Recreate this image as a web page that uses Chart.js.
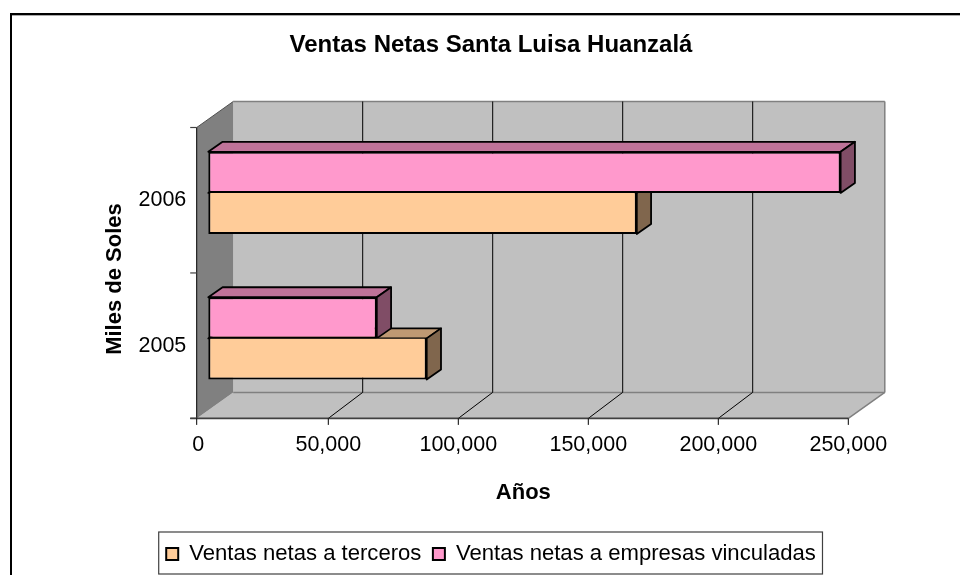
<!DOCTYPE html>
<html lang="es">
<head>
<meta charset="utf-8">
<title>Ventas Netas Santa Luisa Huanzalá</title>
<script src="https://cdn.jsdelivr.net/npm/chart.js@4/dist/chart.umd.min.js"></script>
<style>html,body{margin:0;padding:0;background:#fff}canvas{display:block}</style>
</head>
<body>
<canvas id="c" width="960" height="575"></canvas>
<script>
const categories = ['2005', '2006'];
const ventasTerceros = [84000, 164800];
const ventasVinculadas = [64800, 243200];
const tickValues = [0, 50000, 100000, 150000, 200000, 250000];
const chartTitle = 'Ventas Netas Santa Luisa Huanzalá';
const xTitle = 'Años';
const yTitle = 'Miles de Soles  ';
const seriesNames = ['Ventas netas a terceros', 'Ventas netas a empresas vinculadas'];

const FONT = '"Liberation Sans", Arial, sans-serif';
const WALL = { dx: 36.5, dy: -26, gridDx: 34.4, cornerInset: 1.6 };
const BAR_PLANE = { dx: 10, dy: -7.3 };
const BAR_DEPTH = { dx: 14.3, dy: -10 };
const FACE = [
  { front: '#FFCC99', top: '#BF9973', side: '#80664D' },
  { front: '#FF99CC', top: '#BF7399', side: '#804D66' }
];

function poly(ctx, pts, fill, stroke, lw) {
  ctx.beginPath();
  pts.forEach((p, i) => i ? ctx.lineTo(p[0], p[1]) : ctx.moveTo(p[0], p[1]));
  ctx.closePath();
  if (fill) { ctx.fillStyle = fill; ctx.fill(); }
  if (stroke) { ctx.strokeStyle = stroke; ctx.lineWidth = lw; ctx.stroke(); }
}
function line(ctx, x1, y1, x2, y2, color, lw) {
  ctx.beginPath(); ctx.moveTo(x1, y1); ctx.lineTo(x2, y2);
  ctx.strokeStyle = color; ctx.lineWidth = lw; ctx.stroke();
}

const scene3d = {
  id: 'scene3d',
  beforeDraw(chart) {
    const ctx = chart.ctx, x = chart.scales.x, y = chart.scales.y;
    const L = x.left - WALL.cornerInset, R = x.right, T = y.top, B = y.bottom;
    const dx = WALL.dx, dy = WALL.dy;
    ctx.save();
    // outer frame
    ctx.fillStyle = '#000';
    ctx.fillRect(10, 13, 950, 2);
    ctx.fillRect(10, 13, 2, 562);
    ctx.fillStyle = '#aaa';
    ctx.fillRect(12, 15, 948, 1);
    // walls
    poly(ctx, [[L + dx, T + dy], [R + dx, T + dy], [R + dx, B + dy], [L + dx, B + dy]], '#C0C0C0');
    poly(ctx, [[L, B], [R, B], [R + dx, B + dy], [L + dx, B + dy]], '#C0C0C0');
    poly(ctx, [[L, T], [L + dx, T + dy], [L + dx, B + dy], [L, B]], '#808080');
    // wall edges
    line(ctx, L + dx, T + dy, R + dx, T + dy, '#808080', 1.5);
    line(ctx, R + dx, T + dy, R + dx, B + dy, '#808080', 1.5);
    line(ctx, L + dx, B + dy, R + dx, B + dy, '#808080', 1.5);
    line(ctx, R, B, R + dx, B + dy, '#808080', 1.5);
    line(ctx, L, T, L + dx, T + dy, '#505050', 1);
    // grid
    tickValues.slice(1, -1).forEach(v => {
      const p = x.getPixelForValue(v);
      line(ctx, p + WALL.gridDx, T + dy, p + WALL.gridDx, B + dy, '#000', 1);
      line(ctx, p, B, p + WALL.gridDx, B + dy, '#000', 1);
    });
    // axes and tick marks
    line(ctx, L, T, L, B, '#000', 1);
    [T, (T + B) / 2, B].forEach(v => line(ctx, L - 6.5, v, L, v, '#404040', 1.2));
    line(ctx, L - 6.5, B, R, B, '#404040', 1.6);
    tickValues.forEach(v => {
      const p = v === 0 ? L : x.getPixelForValue(v);
      line(ctx, p, B, p, B + 6.5, '#000', 1);
    });
    // legend frame
    const hit = chart.legend.legendHitBoxes, last = hit[hit.length - 1];
    const lL = hit[0].left - 7.5, lR = last.left + last.width + 6.7;
    ctx.strokeStyle = '#404040'; ctx.lineWidth = 1.2;
    ctx.strokeRect(lL, 532, lR - lL, 42);
    ctx.restore();
  },
  beforeDatasetsDraw(chart) {
    const ctx = chart.ctx;
    ctx.save();
    ctx.translate(BAR_PLANE.dx, BAR_PLANE.dy);
    ctx.lineJoin = 'round';
    [0, 1].forEach(ds => {
      chart.getDatasetMeta(ds).data.forEach(el => {
        const p = el.getProps(['x', 'y', 'base', 'height'], true);
        const t = p.y - p.height / 2, b = p.y + p.height / 2;
        const ddx = BAR_DEPTH.dx, ddy = BAR_DEPTH.dy;
        poly(ctx, [[p.base, t], [p.x, t], [p.x + ddx, t + ddy], [p.base + ddx, t + ddy]], FACE[ds].top, '#000', 1.8);
        poly(ctx, [[p.x, t], [p.x + ddx, t + ddy], [p.x + ddx, b + ddy], [p.x, b]], FACE[ds].side, '#000', 1.8);
      });
    });
  },
  afterDatasetsDraw(chart) { chart.ctx.restore(); }
};

new Chart(document.getElementById('c'), {
  type: 'bar',
  data: {
    labels: categories,
    datasets: [
      { label: seriesNames[0], data: ventasTerceros, backgroundColor: FACE[0].front, borderColor: '#000', borderWidth: 2, borderSkipped: 'top', order: 2, clip: false, categoryPercentage: 0.5655, barPercentage: 1 },
      { label: seriesNames[1], data: ventasVinculadas, backgroundColor: FACE[1].front, borderColor: '#000', borderWidth: 2, borderSkipped: false, order: 1, clip: false, categoryPercentage: 0.5655, barPercentage: 1 }
    ]
  },
  options: {
    indexAxis: 'y',
    responsive: false,
    animation: false,
    layout: { padding: { left: 22, right: 0, top: 0, bottom: 0 } },
    plugins: {
      tooltip: { enabled: false },
      title: {
        display: true, text: chartTitle, color: '#000',
        font: { family: FONT, size: 24, weight: 'bold', lineHeight: 1.2 },
        padding: { top: 30.6, bottom: 68.1 }
      },
      legend: {
        position: 'bottom',
        labels: {
          color: '#000', boxWidth: 12, boxHeight: 12, padding: 11.5,
          font: { family: FONT, size: 22.1 },
          sort: (a, b) => a.datasetIndex - b.datasetIndex
        }
      }
    },
    scales: {
      x: {
        type: 'linear', position: 'bottom', min: 0, max: 250000,
        grid: { display: false }, border: { display: false },
        ticks: {
          stepSize: 50000, color: '#000', padding: 6, maxRotation: 0, autoSkip: false,
          font: { family: FONT, size: 21.5 },
          callback: v => v.toLocaleString('en-US')
        },
        afterBuildTicks: s => { s.ticks = tickValues.map(value => ({ value })); },
        title: {
          display: true, text: xTitle, color: '#000',
          font: { family: FONT, size: 22, weight: 'bold', lineHeight: 1.2 },
          padding: { top: 0, bottom: 25.5 }
        },
        afterFit: s => { s.height = 113; }
      },
      y: {
        type: 'category', position: 'left', reverse: true,
        grid: { display: false }, border: { display: false },
        ticks: { color: '#000', padding: 4, font: { family: FONT, size: 21.5 } },
        title: {
          display: true, text: yTitle, color: '#000',
          font: { family: FONT, size: 22, weight: 'bold', lineHeight: 1.2 },
          padding: { top: 79.8, bottom: 0 }
        },
        afterFit: s => { s.width = 176.3; }
      },
      rightGap: {
        type: 'linear', position: 'right',
        grid: { display: false }, border: { display: false },
        ticks: { display: false },
        afterFit: s => { s.width = 111.7; }
      }
    }
  },
  plugins: [scene3d]
});
</script>
</body>
</html>
